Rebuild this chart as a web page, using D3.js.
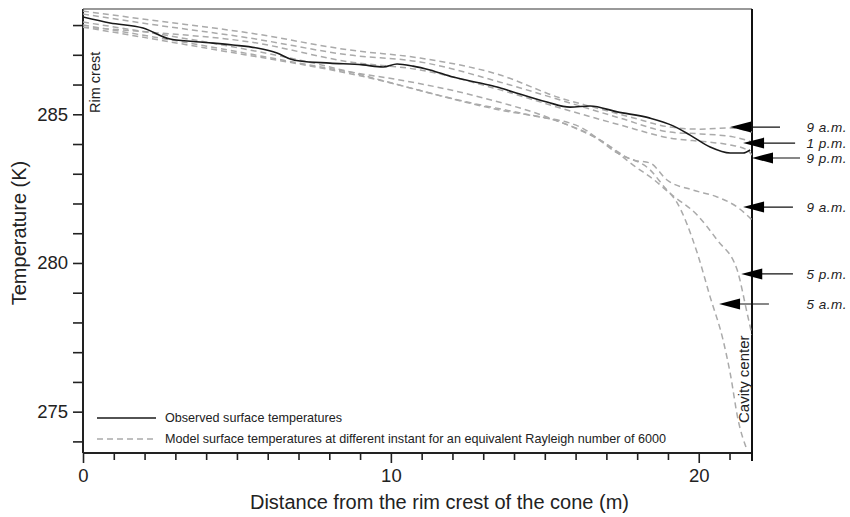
<!DOCTYPE html>
<html>
<head>
<meta charset="utf-8">
<script src="https://cdn.jsdelivr.net/npm/d3@7"></script>
<style>
  body { margin: 0; background: #fff; }
  svg { display: block; font-family: "Liberation Sans", Arial, Helvetica, sans-serif; }
</style>
</head>
<body>
<div id="chart"></div>
<script>
// observed surface temperature along the profile
const obsDist = [0, 0.88, 1.95, 2.83, 3.8, 4.87, 5.65, 6.3, 6.73, 7.05, 8.02, 9.09, 9.75, 10.2, 10.72, 11.27, 12.02, 12.9, 13.45, 13.97, 15.07, 15.82, 16.47, 17.35, 18.42, 19.17, 19.72, 20.37, 21.02, 21.44, 21.67];
const obsTemp = [288.27, 288.07, 287.9, 287.53, 287.43, 287.33, 287.23, 287.06, 286.86, 286.79, 286.72, 286.66, 286.59, 286.69, 286.62, 286.49, 286.25, 286.05, 285.92, 285.75, 285.41, 285.24, 285.28, 285.08, 284.87, 284.61, 284.3, 283.9, 283.7, 283.7, 283.8];

// model curves (Rayleigh number 6000), one per instant
const model9amDist = [0, 2.18, 5.43, 8.67, 10.95, 13.55, 15.5, 16.57, 17.77, 19.07, 20.05, 21.02, 21.73];
const model9amTemp = [288.47, 288.17, 287.73, 287.16, 286.89, 286.32, 285.55, 285.24, 284.91, 284.57, 284.5, 284.54, 284.4];

const model1pmDist = [0, 2.18, 5.43, 8.67, 10.95, 13.55, 15.5, 17.45, 19.07, 20.05, 21.12, 21.73];
const model1pmTemp = [288.37, 288.03, 287.56, 286.99, 286.76, 286.08, 285.48, 284.87, 284.4, 284.34, 284.24, 284.07];

const model9pmDist = [0, 2.18, 5.43, 8.67, 10.95, 13.55, 15.5, 17.45, 19.07, 20.27, 21.02, 21.57, 21.73];
const model9pmTemp = [287.93, 287.76, 287.43, 286.76, 286.49, 285.82, 285.21, 284.64, 284.2, 284.07, 283.97, 283.8, 283.63];

const model9amBDist = [0, 3.8, 8.67, 10.85, 13.0, 15.17, 16.8, 17.87, 18.42, 18.97, 19.82, 20.6, 21.25, 21.73];
const model9amBTemp = [288.0, 287.33, 286.42, 286.05, 285.55, 284.87, 284.13, 283.46, 283.36, 282.79, 282.45, 282.22, 281.88, 281.45];

const model5pmDist = [0, 3.8, 9.32, 12.48, 14.52, 16.15, 17.35, 18.42, 18.97, 19.95, 20.6, 21.25, 21.57, 21.73];
const model5pmTemp = [287.93, 287.26, 286.22, 285.41, 284.97, 284.57, 283.7, 283.13, 282.45, 281.61, 280.77, 279.76, 278.32, 277.58];

const model5amDist = [0, 7.05, 13.55, 15.5, 16.8, 17.87, 18.75, 19.3, 19.95, 20.37, 20.79, 21.02, 21.28, 21.57];
const model5amTemp = [288.1, 286.82, 285.14, 284.74, 284.13, 283.29, 282.62, 282.02, 280.34, 278.86, 277.41, 276.3, 274.72, 273.71];

// arrow annotations on the right
const arrowLabels = ["9 a.m.", "1 p.m.", "9 p.m.", "9 a.m.", "5 p.m.", "5 a.m."];
const arrowTemp = [284.57, 284.03, 283.53, 281.88, 279.63, 278.62];
const arrowTip = [21.02, 21.44, 21.73, 21.44, 21.38, 20.66];
const arrowTail = [22.64, 23.13, 23.29, 23.06, 23.06, 22.28];

const xTickLabels = [0, 10, 20];
const yTickLabels = [275, 280, 285];

const legendLabels = [
  "Observed surface temperatures",
  "Model surface temperatures at different instant for an equivalent Rayleigh number of 6000"
];

const zip = (xs, ys) => xs.map((x, i) => [x, ys[i]]);

const modelSeries = [
  zip(model9amDist, model9amTemp),
  zip(model1pmDist, model1pmTemp),
  zip(model9pmDist, model9pmTemp),
  zip(model9amBDist, model9amBTemp),
  zip(model5pmDist, model5pmTemp),
  zip(model5amDist, model5amTemp)
];
const observed = zip(obsDist, obsTemp);

const width = 850;
const height = 517;
const plot = { left: 83, right: 752, top: 9, bottom: 453 };

const x = d3.scaleLinear().domain([0, 21.73]).range([plot.left, plot.right]);
const y = d3.scaleLinear().domain([273.61, 288.54]).range([plot.bottom, plot.top]);

const svg = d3
  .select("#chart")
  .append("svg")
  .attr("width", width)
  .attr("height", height);

svg
  .append("clipPath")
  .attr("id", "plot-cp")
  .append("rect")
  .attr("x", plot.left)
  .attr("y", plot.top)
  .attr("width", plot.right - plot.left)
  .attr("height", plot.bottom - plot.top);

// axes
const xMinor = d3.range(0, 22);
const yMinor = d3.range(274, 289);

const xAxis = d3
  .axisBottom(x)
  .tickValues(xMinor)
  .tickSize(7)
  .tickFormat(d => (xTickLabels.includes(d) ? d : ""));

const yAxis = d3
  .axisLeft(y)
  .tickValues(yMinor)
  .tickSize(10)
  .tickFormat(d => (yTickLabels.includes(d) ? d : ""));

const gx = svg
  .append("g")
  .attr("transform", `translate(0, ${plot.bottom})`)
  .call(xAxis);

gx.selectAll(".tick")
  .filter(d => xTickLabels.includes(d))
  .select("line")
  .attr("y2", 10);

const gy = svg
  .append("g")
  .attr("transform", `translate(${plot.left}, 0)`)
  .call(yAxis);

[gx, gy].forEach(g => {
  g.select(".domain").attr("stroke", "#222").attr("stroke-width", 2);
  g.selectAll(".tick line").attr("stroke", "#222").attr("stroke-width", 1.6);
  g.selectAll(".tick text")
    .attr("font-size", 18.5)
    .attr("fill", "#222")
    .attr("font-family", "Liberation Sans, Arial, sans-serif");
});
gx.select(".domain").attr("d", `M${plot.left},0H${plot.right}`);
gy.select(".domain").attr("d", `M0,${plot.bottom}V${plot.top}`);
gx.selectAll(".tick text").attr("dy", "1em");
gy.selectAll(".tick text").attr("x", -15);

// frame top and right
svg
  .append("line")
  .attr("x1", plot.left)
  .attr("x2", plot.right)
  .attr("y1", plot.top)
  .attr("y2", plot.top)
  .attr("stroke", "#777")
  .attr("stroke-width", 1.6);

svg
  .append("line")
  .attr("x1", plot.right)
  .attr("x2", plot.right)
  .attr("y1", plot.top)
  .attr("y2", plot.bottom + 8)
  .attr("stroke", "#111")
  .attr("stroke-width", 2);

// curves
const line = d3
  .line()
  .x(d => x(d[0]))
  .y(d => y(d[1]))
  .curve(d3.curveMonotoneX);

const curves = svg.append("g").attr("clip-path", "url(#plot-cp)");

curves
  .selectAll("path.model")
  .data(modelSeries)
  .enter()
  .append("path")
  .attr("class", "model")
  .attr("d", line)
  .attr("fill", "none")
  .attr("stroke", "#aaa")
  .attr("stroke-width", 1.5)
  .attr("stroke-dasharray", "6,4");

curves
  .append("path")
  .datum(observed)
  .attr("d", line)
  .attr("fill", "none")
  .attr("stroke", "#1a1a1a")
  .attr("stroke-width", 1.6);

// arrows
const arrows = svg
  .append("g")
  .selectAll("g")
  .data(arrowLabels.map((label, i) => ({
    label,
    t: arrowTemp[i],
    tip: arrowTip[i],
    tail: arrowTail[i]
  })))
  .enter()
  .append("g");

arrows
  .append("line")
  .attr("x1", d => x(d.tip) + 12)
  .attr("x2", d => x(d.tail))
  .attr("y1", d => y(d.t))
  .attr("y2", d => y(d.t))
  .attr("stroke", "#111")
  .attr("stroke-width", 1.2);

arrows
  .append("path")
  .attr("d", d => {
    const tx = x(d.tip);
    const ty = y(d.t);
    return `M${tx},${ty}L${tx + 21},${ty - 5.5}L${tx + 21},${ty + 5.5}Z`;
  })
  .attr("fill", "#000");

arrows
  .append("text")
  .attr("x", 847)
  .attr("y", d => y(d.t))
  .attr("dy", "0.34em")
  .attr("text-anchor", "end")
  .attr("font-size", 13.5)
  .attr("letter-spacing", 0.5)
  .attr("font-style", "italic")
  .attr("fill", "#222")
  .text(d => d.label);

// side labels
svg
  .append("text")
  .attr("transform", `translate(100, 113) rotate(-90)`)
  .attr("font-size", 14.5)
  .attr("fill", "#222")
  .text("Rim crest");

svg
  .append("text")
  .attr("transform", `translate(749, 423) rotate(-90)`)
  .attr("font-size", 15)
  .attr("fill", "#222")
  .text("Cavity center");

// legend
const legend = svg.append("g");
const legendY = [418, 439];

legend
  .selectAll("line")
  .data(legendY)
  .enter()
  .append("line")
  .attr("x1", 97)
  .attr("x2", 156)
  .attr("y1", d => d)
  .attr("y2", d => d)
  .attr("stroke", (d, i) => (i === 0 ? "#1a1a1a" : "#aaa"))
  .attr("stroke-width", 1.5)
  .attr("stroke-dasharray", (d, i) => (i === 0 ? null : "6,4"));

legend
  .selectAll("text")
  .data(legendLabels)
  .enter()
  .append("text")
  .attr("x", 165)
  .attr("y", (d, i) => legendY[i])
  .attr("dy", "0.35em")
  .attr("font-size", 12.6)
  .attr("fill", "#222")
  .text(d => d);

// axis titles
svg
  .append("text")
  .attr("x", (plot.left + plot.right) / 2 + 22)
  .attr("y", 509)
  .attr("text-anchor", "middle")
  .attr("font-size", 20)
  .attr("fill", "#222")
  .text("Distance from the rim crest of the cone (m)");

svg
  .append("text")
  .attr("transform", `translate(26, ${(plot.top + plot.bottom) / 2 + 2}) rotate(-90)`)
  .attr("text-anchor", "middle")
  .attr("font-size", 20)
  .attr("fill", "#222")
  .text("Temperature (K)");
</script>
</body>
</html>
